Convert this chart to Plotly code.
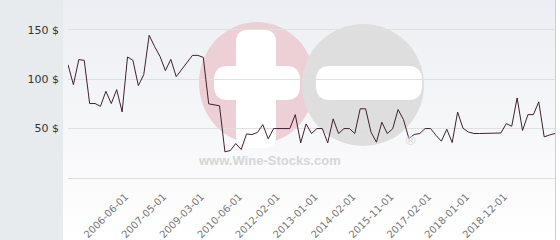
import plotly.graph_objects as go

dates = [
    "2004-11-01", "2005-01-01", "2005-02-01", "2005-03-01", "2005-05-01", "2005-06-01",
    "2005-09-01", "2005-11-01", "2006-01-01", "2006-03-01", "2006-04-01",
    "2006-06-01",
    "2006-08-01", "2006-09-01", "2006-11-01", "2007-01-01", "2007-02-01", "2007-04-01",
    "2007-05-01",
    "2007-08-01", "2007-11-01", "2008-02-01", "2008-05-01", "2008-09-01", "2008-12-01",
    "2009-03-01",
    "2009-05-01", "2009-07-01", "2009-09-01", "2009-12-01", "2010-02-01", "2010-04-01",
    "2010-06-01",
    "2010-09-01", "2010-11-01", "2011-02-01", "2011-05-01", "2011-08-01", "2011-11-01",
    "2012-02-01",
    "2012-03-01", "2012-05-01", "2012-06-01", "2012-08-01", "2012-10-01", "2012-11-01",
    "2013-01-01",
    "2013-03-01", "2013-05-01", "2013-07-01", "2013-09-01", "2013-11-01", "2013-12-01",
    "2014-02-01",
    "2014-05-01", "2014-08-01", "2014-11-01", "2015-02-01", "2015-05-01", "2015-08-01",
    "2015-11-01",
    "2016-01-01", "2016-03-01", "2016-05-01", "2016-07-01", "2016-09-01", "2016-12-01",
    "2017-02-01",
    "2017-04-01", "2017-05-01", "2017-07-01", "2017-09-01", "2017-10-01", "2017-12-01",
    "2018-01-01",
    "2018-03-01", "2018-04-01", "2018-06-01", "2018-07-01", "2018-09-01", "2018-10-01",
    "2018-12-01",
    "2019-01-01", "2019-03-01", "2019-04-01", "2019-06-01", "2019-07-01", "2019-09-01",
    "2019-10-01", "2019-12-01", "2020-01-01",
]

prices = [
    114.6, 94.4, 119.7, 119, 75.3, 75.3, 72.5, 87.7, 75.3, 89.4, 66.8,
    122.4, 119, 93.4, 104.5, 144.3, 133, 123,
    108.6, 120, 102.5, 110, 117, 124, 124,
    122, 75, 74, 73, 26.5, 27.8, 34.8,
    28.8, 44.6, 43.9, 46, 54, 39.6, 50,
    50, 50, 50, 64.1, 35.5, 54.7, 45,
    50, 50, 35.5, 59.8, 45, 50, 50,
    45, 70, 70, 46.3, 36.2, 56.4, 45,
    49.7, 69.2, 59, 40, 44, 45, 50,
    50, 43.2, 37.2, 49.3, 35.8, 66.7, 50.3,
    46.5, 45, 45, 45, 45, 45, 45.5,
    55, 52.3, 81, 48, 64.1, 64.1, 77,
    41.6, 43.5, 45,
]

tick_labels = [
    "2006-06-01", "2007-05-01", "2009-03-01", "2010-06-01", "2012-02-01",
    "2013-01-01", "2014-02-01", "2015-11-01", "2017-02-01", "2018-01-01", "2018-12-01",
]

y_ticks = [50, 100, 150]
y_tick_text = ["50 $", "100 $", "150 $"]

W, H = 560, 240
L, R, T, B = 68, 5, 0, 62
PW, PH = W - L - R, H - T - B


def px(x):
    return (x - L) / PW


def py(y):
    return (H - B - y) / PH


shapes = []
# left gray panel
shapes.append(dict(type="rect", xref="paper", yref="paper", x0=px(0), x1=px(63),
                   y0=py(240), y1=py(0), fillcolor="#e7ebee", line_width=0, layer="below"))
# gradient background bands
n = 30
top = (236, 238, 243)
bot = (255, 255, 255)
for i in range(n):
    y0 = 240 * i / n
    y1 = 240 * (i + 1) / n
    t = (i + 0.5) / n
    c = tuple(round(top[k] + (bot[k] - top[k]) * t) for k in range(3))
    shapes.append(dict(type="rect", xref="paper", yref="paper", x0=px(63), x1=px(555),
                       y0=py(y1), y1=py(y0), fillcolor="rgb(%d,%d,%d)" % c,
                       line_width=0, layer="below"))


def rrect(x0, y0, x1, y1, r):
    X0, X1 = px(x0), px(x1)
    Y0, Y1 = py(y0), py(y1)
    rx = r / PW
    ry = r / PH
    return ("M %f,%f L %f,%f Q %f,%f %f,%f L %f,%f Q %f,%f %f,%f L %f,%f Q %f,%f %f,%f "
            "L %f,%f Q %f,%f %f,%f Z") % (
        X0 + rx, Y0, X1 - rx, Y0, X1, Y0, X1, Y0 - ry, X1, Y1 + ry, X1, Y1, X1 - rx, Y1,
        X0 + rx, Y1, X0, Y1, X0, Y1 + ry, X0, Y0 - ry, X0, Y0, X0 + rx, Y0)


# watermark (logo)
shapes.append(dict(type="circle", xref="paper", yref="paper", x0=px(199), x1=px(315),
                   y0=py(144), y1=py(22), fillcolor="#ecd0d6", line_width=0, layer="below"))
shapes.append(dict(type="circle", xref="paper", yref="paper", x0=px(302), x1=px(424),
                   y0=py(146), y1=py(24), fillcolor="#dedede", line_width=0, layer="below"))
shapes.append(dict(type="path", xref="paper", yref="paper", path=rrect(236, 30, 276, 148, 12),
                   fillcolor="#ffffff", line_width=0, layer="below"))
shapes.append(dict(type="path", xref="paper", yref="paper", path=rrect(214, 66, 300, 100, 14),
                   fillcolor="#ffffff", line_width=0, layer="below"))
shapes.append(dict(type="path", xref="paper", yref="paper", path=rrect(316, 66, 422, 100, 14),
                   fillcolor="#ffffff", line_width=0, layer="below"))
# right border
shapes.append(dict(type="line", xref="paper", yref="paper", x0=px(555.5), x1=px(555.5),
                   y0=py(240), y1=py(0), line=dict(color="#cfcfcf", width=1), layer="above"))

annotations = [
    dict(text="<b>www.Wine-Stocks.com</b>", xref="paper", yref="paper", x=px(269), y=py(160),
         showarrow=False, font=dict(family="Liberation Sans", size=13, color="#d6d6d6"),
         xanchor="center", yanchor="middle"),
    dict(text="®", xref="paper", yref="paper", x=px(410), y=py(140),
         showarrow=False, font=dict(family="DejaVu Sans", size=13, color="#d4d4d4"),
         xanchor="center", yanchor="middle"),
]

fig = go.Figure()
fig.add_trace(go.Scatter(x=dates, y=prices, mode="lines",
                         line=dict(color="#42202f", width=1), hoverinfo="x+y"))

fig.update_layout(
    width=W, height=H,
    margin=dict(l=L, r=R, t=T, b=B, pad=0, autoexpand=False),
    paper_bgcolor="#ffffff",
    plot_bgcolor="rgba(0,0,0,0)",
    showlegend=False,
    shapes=shapes,
    annotations=annotations,
    font=dict(family="DejaVu Sans"),
)
fig.update_xaxes(
    type="category", range=[0, len(dates) - 1], showgrid=False, automargin=False,
    tickmode="array", tickvals=tick_labels, ticktext=tick_labels,
    tickangle=-45, tickfont=dict(family="DejaVu Sans", size=10, color="#777777"),
    showline=True, linecolor="#dddddd", linewidth=1, ticks="", zeroline=False,
    ticklabelstandoff=8, ticklabelshift=-2,
)
fig.update_yaxes(
    range=[0, 180], tickmode="array", tickvals=y_ticks, ticktext=y_tick_text,
    showgrid=True, gridcolor="#e0e0e0", gridwidth=1, zeroline=False, automargin=False,
    tickfont=dict(family="DejaVu Sans", size=11, color="#333333"),
    ticklabelstandoff=8,
)

fig.write_html("out.html")
